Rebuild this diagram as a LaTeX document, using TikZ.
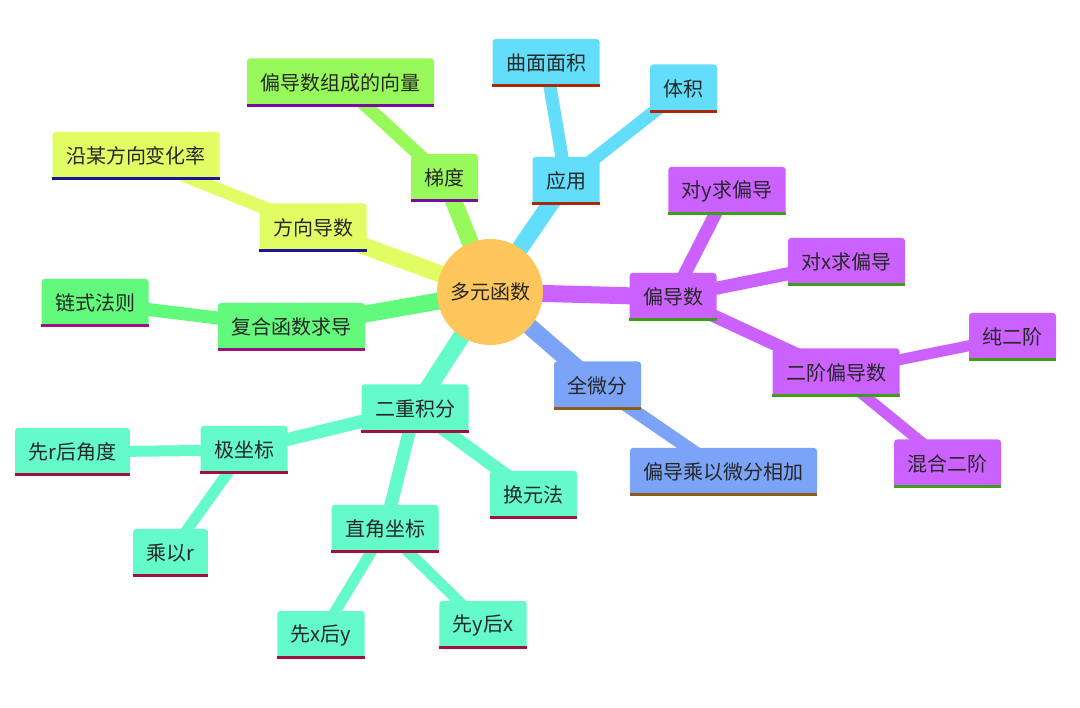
\documentclass[tikz,border=0pt]{standalone}
\usepackage{fontspec}
\newfontfamily\cjk{Noto Sans CJK SC}
\usetikzlibrary{backgrounds}

\definecolor{textgray}{HTML}{262626}
\definecolor{rootfill}{HTML}{FFC65C}
\definecolor{cyanfill}{HTML}{62DDFA}  \definecolor{cyanline}{HTML}{A8280C}
\definecolor{gradfill}{HTML}{98FA5A}  \definecolor{gradline}{HTML}{760D9E}
\definecolor{dirfill}{HTML}{E2FC64}   \definecolor{dirline}{HTML}{1C1696}
\definecolor{chainfill}{HTML}{62FA7C} \definecolor{chainline}{HTML}{A0107E}
\definecolor{aquafill}{HTML}{64FACA}  \definecolor{aqualine}{HTML}{A2103E}
\definecolor{bluefill}{HTML}{7BA4F8}  \definecolor{blueline}{HTML}{8C5C14}
\definecolor{violetfill}{HTML}{CB62FF} \definecolor{violetline}{HTML}{3E9E1C}

\tikzset{
topic/.style= {rectangle, rounded corners=3pt, inner xsep=13.5pt, inner ysep=0pt, minimum height=48pt, text=textgray, font=\cjk\fontsize{20}{24}\selectfont},
root/.style= {circle, fill=rootfill, minimum size=106pt, inner sep=0pt, text=textgray, font=\cjk\fontsize{20}{24}\selectfont},
trunk/.style= {line width=17pt, draw=#1},
branch/.style= {line width=13pt, draw=#1},
twig/.style= {line width=11pt, draw=#1}
}

\begin{document}
\begin{tikzpicture}[x=1pt,y=-1pt]
\useasboundingbox (0,0) rectangle (1080,708);

% the centre
\node[root] (fn) at (490,292) {多元函数};

% the first ring of topics
\node[topic,fill=cyanfill] (app) at (566,181) {应用};
\node[topic,fill=gradfill] (grad) at (444.5,178) {梯度};
\node[topic,fill=dirfill] (dir) at (313,227.5) {方向导数};
\node[topic,fill=chainfill] (comp) at (291.5,327) {复合函数求导};
\node[topic,fill=violetfill] (pd) at (673,297) {偏导数};
\node[topic,fill=bluefill] (tot) at (597.5,385.5) {全微分};
\node[topic,fill=aquafill] (dbl) at (415,408.5) {二重积分};

% the topics below them
\node[topic,fill=cyanfill] (area) at (546,63) {曲面面积};
\node[topic,fill=cyanfill] (vol) at (683.5,88.5) {体积};
\node[topic,fill=gradfill] (vec) at (340.5,82.5) {偏导数组成的向量};
\node[topic,fill=dirfill] (rate) at (136,156) {沿某方向变化率};
\node[topic,fill=chainfill] (rule) at (95,303) {链式法则};
\node[topic,fill=violetfill] (pdy) at (727,191) {对y求偏导};
\node[topic,fill=violetfill] (pdx) at (846.5,262) {对x求偏导};
\node[topic,fill=violetfill] (sec) at (836,372.5) {二阶偏导数};
\node[topic,fill=violetfill] (pure) at (1012.5,337) {纯二阶};
\node[topic,fill=violetfill] (mixed) at (947.5,463.5) {混合二阶};
\node[topic,fill=bluefill] (sum) at (723.5,472) {偏导乘以微分相加};
\node[topic,fill=aquafill] (subst) at (533.5,495) {换元法};
\node[topic,fill=aquafill] (cart) at (385,529) {直角坐标};
\node[topic,fill=aquafill] (xy) at (321,635) {先x后y};
\node[topic,fill=aquafill] (yx) at (483,625) {先y后x};
\node[topic,fill=aquafill] (polar) at (244,450) {极坐标};
\node[topic,fill=aquafill] (rth) at (72.5,452) {先r后角度};
\node[topic,fill=aquafill] (mulr) at (170.5,553) {乘以r};

% the strip under each topic
\foreach \name/\col in {app/cyanline,area/cyanline,vol/cyanline,grad/gradline,vec/gradline,
  dir/dirline,rate/dirline,comp/chainline,rule/chainline,pd/violetline,pdy/violetline,
  pdx/violetline,sec/violetline,pure/violetline,mixed/violetline,tot/blueline,sum/blueline,
  dbl/aqualine,subst/aqualine,cart/aqualine,xy/aqualine,yx/aqualine,polar/aqualine,
  rth/aqualine,mulr/aqualine}
  \fill[\col] (\name.south west) rectangle ([yshift=3pt]\name.south east);

% lines from the centre and between the topics
\begin{scope}[on background layer]
\foreach \name/\col in {app/cyanfill,grad/gradfill,dir/dirfill,comp/chainfill,pd/violetfill,tot/bluefill,dbl/aquafill}
  \draw[trunk=\col] (fn.center) -- (\name.center);

\foreach \from/\to/\col in {app/area/cyanfill,app/vol/cyanfill,grad/vec/gradfill,dir/rate/dirfill,
  comp/rule/chainfill,pd/pdy/violetfill,pd/pdx/violetfill,pd/sec/violetfill,tot/sum/bluefill,
  dbl/subst/aquafill,dbl/cart/aquafill,dbl/polar/aquafill}
  \draw[branch=\col] (\from.center) -- (\to.center);

\foreach \from/\to/\col in {sec/pure/violetfill,sec/mixed/violetfill,cart/xy/aquafill,
  cart/yx/aquafill,polar/rth/aquafill,polar/mulr/aquafill}
  \draw[twig=\col] (\from.center) -- (\to.center);
\end{scope}

\end{tikzpicture}
\end{document}
